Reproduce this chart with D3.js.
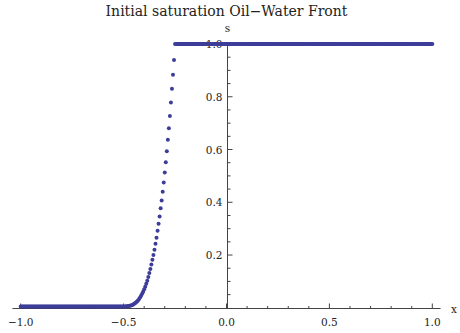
<!DOCTYPE html>
<html>

<head>
    <meta charset="utf-8">
    <title>Initial saturation Oil-Water Front</title>
    <script src="https://cdn.jsdelivr.net/npm/d3@7"></script>
    <style>
        body {
            margin: 0;
            background: white;
        }

        svg text {
            fill: #222;
        }

        .axis-line {
            stroke: #444;
            stroke-width: 1px;
        }

        .tick-mark {
            stroke: #444;
            stroke-width: 1px;
        }

        .tick-label {
            font-size: 10.5px;
        }

        .title {
            font-size: 14px;
        }

        circle.pt {
            fill: #3d3d99;
        }
    </style>
</head>

<body>
    <script>
        let width = 460;
        let height = 333;
        let serif = "DejaVu Serif";

        // sampling grid of the solution (dx = 0.005)
        let xStep = 0.005;
        // left part, before the front: s stays at the initial value
        let lowStart = -1.0, lowEnd = -0.5, lowLevel = 0.005;
        // right part, behind the shock: fully saturated
        let highStart = -0.25, highEnd = 1.0, highLevel = 1.0;

        // the rising part of the front
        let frontX = [-0.495, -0.49, -0.485, -0.48, -0.475, -0.47, -0.465, -0.46, -0.455, -0.45,
            -0.445, -0.44, -0.435, -0.43, -0.425, -0.42, -0.415, -0.41, -0.405, -0.40,
            -0.395, -0.39, -0.385, -0.38, -0.375, -0.37, -0.365, -0.36, -0.355, -0.35,
            -0.345, -0.34, -0.335, -0.33, -0.325, -0.32, -0.315, -0.31, -0.305, -0.30,
            -0.295, -0.29, -0.285, -0.28, -0.275, -0.27, -0.265, -0.26, -0.255];
        let frontS = [0.005, 0.005, 0.006, 0.006, 0.007, 0.008, 0.009, 0.010, 0.012, 0.014,
            0.017, 0.020, 0.024, 0.028, 0.033, 0.039, 0.046, 0.053, 0.061, 0.070,
            0.080, 0.091, 0.103, 0.117, 0.132, 0.147, 0.164, 0.182, 0.200, 0.220,
            0.243, 0.266, 0.292, 0.319, 0.346, 0.377, 0.407, 0.440, 0.475, 0.513,
            0.552, 0.593, 0.637, 0.681, 0.727, 0.778, 0.830, 0.883, 0.939];

        let xMajor = [-1.0, -0.5, 0.0, 0.5, 1.0];
        let xMinor = [-0.9, -0.8, -0.7, -0.6, -0.4, -0.3, -0.2, -0.1, 0.1, 0.2, 0.3, 0.4, 0.6, 0.7, 0.8, 0.9];
        let yMajor = [0.2, 0.4, 0.6, 0.8, 1.0];
        let yMinor = [0.05, 0.1, 0.15, 0.25, 0.3, 0.35, 0.45, 0.5, 0.55, 0.65, 0.7, 0.75, 0.85, 0.9, 0.95];

        function draw() {
            let data = [];
            d3.range(lowStart, lowEnd + 1e-9, xStep).forEach(x => data.push({ x: x, s: lowLevel }));
            frontX.forEach((x, i) => data.push({ x: x, s: frontS[i] }));
            d3.range(highStart, highEnd + 1e-9, xStep).forEach(x => data.push({ x: x, s: highLevel }));

            let svg = d3.select('body').append('svg')
                .attr('width', width)
                .attr('height', height)
                .style('font-family', serif);

            let x_scale = d3.scaleLinear()
                .domain([-1, 1])
                .range([20.7, 432.3]);

            let y_scale = d3.scaleLinear()
                .domain([0, 1])
                .range([307.8, 44]);

            let x0 = x_scale(0);
            let y0 = Math.round(y_scale(0)) + 0.5;

            // x axis, ticks pointing up
            svg.append("line")
                .attr("class", "axis-line")
                .attr("x1", x_scale(-1.04)).attr("x2", x_scale(1.04))
                .attr("y1", y0).attr("y2", y0);

            svg.selectAll("line.xmaj")
                .data(xMajor)
                .join("line")
                .attr("class", "tick-mark xmaj")
                .attr("x1", d => x_scale(d)).attr("x2", d => x_scale(d))
                .attr("y1", y0).attr("y2", y0 - 5);

            svg.selectAll("line.xmin")
                .data(xMinor)
                .join("line")
                .attr("class", "tick-mark xmin")
                .attr("x1", d => x_scale(d)).attr("x2", d => x_scale(d))
                .attr("y1", y0).attr("y2", y0 - 2.5);

            svg.selectAll("text.xlab")
                .data(xMajor)
                .join("text")
                .attr("class", "tick-label xlab")
                .attr("x", d => x_scale(d))
                .attr("y", 326)
                .attr("text-anchor", "middle")
                .text(d => d3.format(".1f")(d).replace("-", "\u2212"));

            // y axis, ticks pointing right
            let xa = Math.round(x0) + 0.5;
            svg.append("line")
                .attr("class", "axis-line")
                .attr("x1", xa).attr("x2", xa)
                .attr("y1", y_scale(1.0)).attr("y2", y0);

            svg.selectAll("line.ymaj")
                .data(yMajor)
                .join("line")
                .attr("class", "tick-mark ymaj")
                .attr("x1", xa).attr("x2", xa + 5)
                .attr("y1", d => y_scale(d)).attr("y2", d => y_scale(d));

            svg.selectAll("line.ymin")
                .data(yMinor)
                .join("line")
                .attr("class", "tick-mark ymin")
                .attr("x1", xa).attr("x2", xa + 3)
                .attr("y1", d => y_scale(d)).attr("y2", d => y_scale(d));

            svg.selectAll("text.ylab")
                .data(yMajor)
                .join("text")
                .attr("class", "tick-label ylab")
                .attr("x", xa - 5)
                .attr("y", d => y_scale(d) + 4)
                .attr("text-anchor", "end")
                .text(d => d3.format(".1f")(d));

            // axis names
            svg.append("text")
                .attr("class", "tick-label")
                .attr("x", xa)
                .attr("y", 32)
                .attr("text-anchor", "middle")
                .text("s");

            svg.append("text")
                .attr("class", "tick-label")
                .attr("x", 454)
                .attr("y", 313)
                .attr("text-anchor", "middle")
                .text("x");

            svg.append("text")
                .attr("class", "title")
                .attr("x", 226.5)
                .attr("y", 16)
                .attr("text-anchor", "middle")
                .text("Initial saturation Oil\u2212Water Front");

            // the points
            svg.selectAll("circle.pt")
                .data(data)
                .join("circle")
                .attr("class", "pt")
                .attr("cx", d => x_scale(d.x))
                .attr("cy", d => y_scale(d.s))
                .attr("r", 2);
        }

        draw();
    </script>
</body>

</html>
